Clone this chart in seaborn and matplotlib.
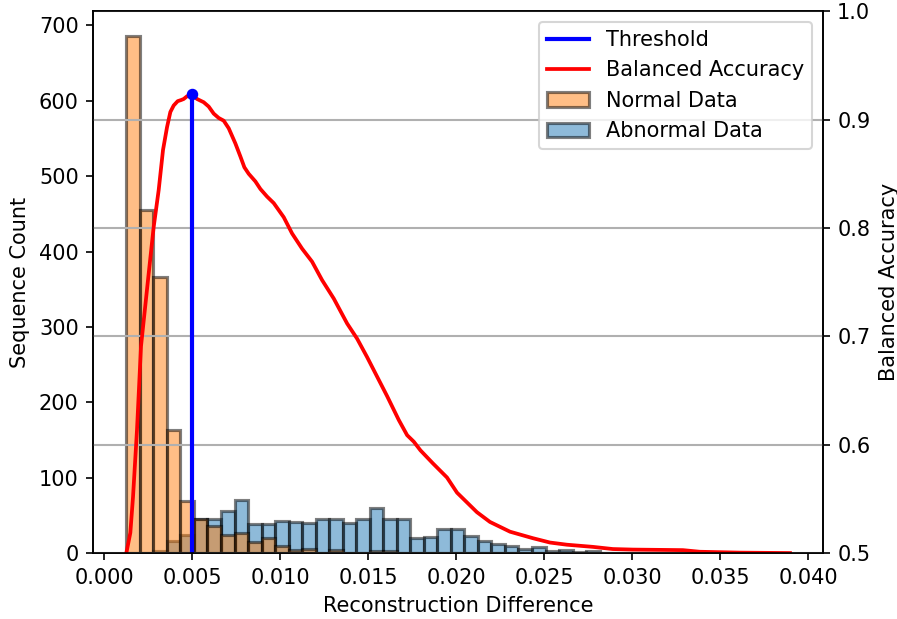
import numpy as np
import pandas as pd
import matplotlib
matplotlib.use("Agg")
import matplotlib.pyplot as plt
import seaborn as sns

# histogram bins (shared by both classes)
bin_edges = np.linspace(0.00127, 0.0389, 50)

normal_counts = [685, 455, 366, 164, 69, 45, 36, 25, 27, 15,
                 21, 10, 4, 6, 0, 4, 0, 0, 3, 3,
                 0, 0, 0, 0, 0, 0, 0, 0, 0, 0,
                 0, 0, 0, 0, 0, 0, 0, 0, 0, 0,
                 0, 0, 0, 0, 0, 0, 0, 0, 0]

abnormal_counts = [0, 0, 3, 16, 25, 45, 45, 56, 71, 39,
                   39, 43, 42, 40, 45, 45, 40, 45, 60, 46,
                   46, 21, 22, 32, 32, 23, 17, 13, 10, 6,
                   8, 3, 4, 2, 3, 1, 1, 0, 0, 0,
                   0, 0, 0, 0, 0, 0, 0, 0, 0]

# balanced accuracy as a function of the threshold
thresholds = [0.001269, 0.001496, 0.001648, 0.001875, 0.002102, 0.002538,
              0.002822, 0.003106, 0.003352, 0.003580, 0.003769, 0.003958,
              0.004186, 0.004375, 0.004527, 0.004716, 0.005000, 0.005284,
              0.005663, 0.005947, 0.006231, 0.006515, 0.006799, 0.007083,
              0.007462, 0.007746, 0.007973, 0.008220, 0.008598, 0.008883,
              0.009261, 0.009640, 0.010208, 0.010682, 0.011250, 0.011818,
              0.012386, 0.013049, 0.013807, 0.014375, 0.014943, 0.015511,
              0.016080, 0.016742, 0.017216, 0.017595, 0.017973, 0.01868,
              0.01948, 0.02005, 0.02118, 0.02192, 0.02306, 0.02436, 0.02533,
              0.02629, 0.02777, 0.02890, 0.03004, 0.03288, 0.03384, 0.03612,
              0.03896]
balanced_acc = [0.5003, 0.519, 0.552, 0.614, 0.691, 0.758,
                0.801, 0.835, 0.872, 0.893, 0.907, 0.913,
                0.917, 0.918, 0.919, 0.9215, 0.9233, 0.919,
                0.916, 0.912, 0.9055, 0.9015, 0.899, 0.892,
                0.878, 0.866, 0.856, 0.850, 0.843, 0.836,
                0.829, 0.823, 0.810, 0.795, 0.781, 0.769,
                0.752, 0.735, 0.712, 0.698, 0.681, 0.663,
                0.645, 0.623, 0.609, 0.603, 0.595, 0.583,
                0.570, 0.556, 0.538, 0.529, 0.520, 0.514, 0.510,
                0.508, 0.506, 0.504, 0.5035, 0.503, 0.5015, 0.5007,
                0.5003]

centers = (bin_edges[:-1] + bin_edges[1:]) / 2
hist_df = pd.DataFrame({"diff": centers, "normal": normal_counts,
                        "abnormal": abnormal_counts})
acc_df = pd.DataFrame({"thr": thresholds, "acc": balanced_acc})

best = int(np.argmax(balanced_acc))
best_thr = thresholds[best]
best_ba = balanced_acc[best]

fig = plt.figure(figsize=(897 / 150, 619 / 150), dpi=150)
ax1 = fig.add_axes([0.104, 0.106, 0.813, 0.876])
ax2 = ax1.twinx()

edge = (0, 0, 0, 0.5)
sns.histplot(data=hist_df, x="diff", weights="abnormal", bins=list(bin_edges),
             ax=ax1, color="tab:blue", alpha=0.5, edgecolor=edge,
             linewidth=1.5, label="Abnormal Data")
sns.histplot(data=hist_df, x="diff", weights="normal", bins=list(bin_edges),
             ax=ax1, color="tab:orange", alpha=0.5, edgecolor=edge,
             linewidth=1.5, label="Normal Data")
ax1.set_xlabel("Reconstruction Difference")
ax1.set_ylabel("Sequence Count")
ax1.set_xlim(-0.000608, 0.04081)
ax1.set_xticks(np.arange(0, 0.0401, 0.005))
ax1.set_ylim(0, 718.5)

sns.lineplot(data=acc_df, x="thr", y="acc", ax=ax2, color="red",
             linewidth=1.8, label="Balanced Accuracy", sort=False)
ax2.plot([best_thr, best_thr], [0.5, best_ba], color="blue", linewidth=2,
         label="Threshold")
ax2.plot([best_thr], [best_ba], "o", color="blue", markersize=4.5)
ax2.set_ylim(0.5, 1.0)
ax2.set_ylabel("Balanced Accuracy")
ax2.yaxis.grid(True, linewidth=1)

h1, l1 = ax1.get_legend_handles_labels()
h2, l2 = ax2.get_legend_handles_labels()
handles = dict(zip(l1 + l2, h1 + h2))
order = ["Threshold", "Balanced Accuracy", "Normal Data", "Abnormal Data"]
ax2.legend([handles[k] for k in order], order, loc="upper right")

fig.savefig("out.png", dpi=150)
